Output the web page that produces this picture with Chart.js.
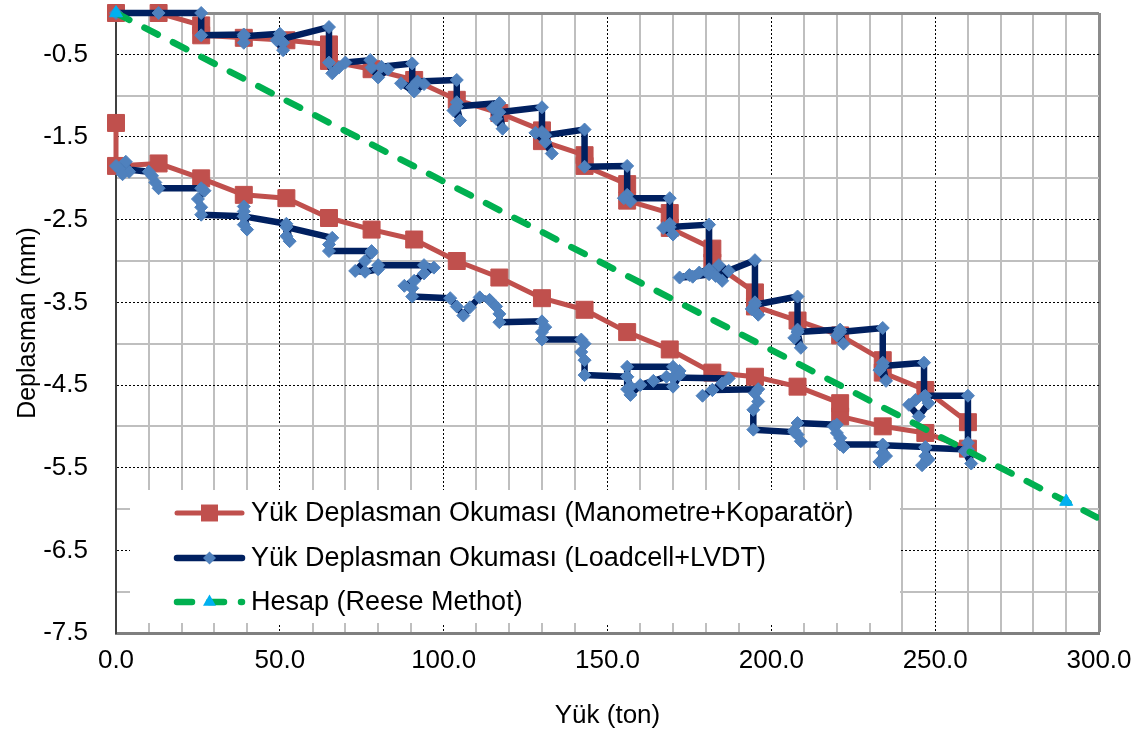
<!DOCTYPE html>
<html>
<head>
<meta charset="utf-8">
<script src="https://cdn.jsdelivr.net/npm/chart.js@4.4.0/dist/chart.umd.min.js"></script>
<style>
  html, body { margin: 0; padding: 0; background: #fff; }
  #wrap { width: 1147px; height: 733px; }
</style>
</head>
<body>
<div id="wrap"><canvas id="myChart"></canvas></div>
<script>
// Yük Deplasman Okuması (Manometre+Koparatör)
var manoLoad = [0, 13, 26, 26, 39, 52, 65, 65, 78, 91, 104, 117, 130, 130, 143, 143, 156, 156, 169, 169,
  182, 182, 195, 195, 208, 221, 234, 234, 247, 260, 260,
  247, 234, 221, 221, 208, 195, 182, 169, 156, 143, 130, 117, 104, 91, 78, 65, 52, 39, 26, 13, 0, 0];
var manoDisp = [0, 0, -0.15, -0.27, -0.30, -0.33, -0.38, -0.58, -0.68, -0.81, -1.05, -1.21, -1.42, -1.55, -1.72, -1.85, -2.07, -2.27, -2.42, -2.60,
  -2.85, -3.02, -3.38, -3.55, -3.72, -3.90, -4.20, -4.35, -4.56, -4.95, -5.27,
  -5.08, -5.00, -4.88, -4.72, -4.52, -4.40, -4.35, -4.07, -3.86, -3.59, -3.45, -3.20, -3.00, -2.74, -2.62, -2.48, -2.24, -2.20, -2.00, -1.82, -1.85, -1.33];

// Yük Deplasman Okuması (Loadcell+LVDT)
var cellLoad = [
  0, 13, 26, 26,
  39, 39, 39,
  50, 51, 51, 49,
  65, 65, 66, 68, 70,
  77.6, 78, 80, 83, 81,
  90.4, 90.4, 87, 91, 94, 92,
  104, 104, 103, 105, 104,
  117, 115, 116, 118, 117,
  130, 130, 128, 131, 133, 131,
  143, 143,
  156, 156, 157, 155,
  169, 169, 167, 170, 169,
  181, 181, 178, 175, 172, 176, 181, 184, 187, 185, 183,
  195, 195, 194, 196, 195,
  208, 208, 207, 209, 208,
  221, 220, 222, 221,
  234, 234, 233, 235, 234,
  246.6, 246.6, 244, 242, 245, 248, 247,
  260, 260, 259, 261, 260,
  // bosaltma
  247, 247, 246, 248, 247,
  234, 234, 233, 235, 234,
  221, 221, 222, 220, 219, 220,
  208, 207, 209, 208, 207,
  194.5, 194.5, 196, 195, 196,
  182, 179, 182, 185, 187,
  170, 172, 170, 156, 156, 156, 157, 160, 164, 168, 172, 170, 157, 156,
  143, 143, 142, 143, 142,
  130, 130, 131, 130,
  117, 117, 116, 114,
  111, 108, 106, 104, 102,
  90.4, 90.4, 88, 91, 94, 97, 94,
  80, 80, 76, 73, 76, 78, 78,
  65, 65, 66,
  52, 52, 53, 52,
  39, 39, 40, 39, 39, 39,
  26, 26, 25, 27, 26,
  13, 12, 11, 10,
  1, 3, 4, 2, 0
];
var cellDisp = [
  0, 0, 0, -0.27,
  -0.26, -0.36, -0.28,
  -0.25, -0.36, -0.45, -0.33,
  -0.17, -0.60, -0.73, -0.66, -0.60,
  -0.57, -0.66, -0.78, -0.68, -0.65,
  -0.61, -0.90, -0.85, -0.95, -0.86, -0.83,
  -0.81, -1.08, -1.18, -1.30, -1.13,
  -1.09, -1.15, -1.28, -1.40, -1.20,
  -1.14, -1.44, -1.45, -1.56, -1.70, -1.48,
  -1.41, -1.86,
  -1.85, -2.20, -2.28, -2.24,
  -2.24, -2.55, -2.60, -2.68, -2.59,
  -2.56, -3.10, -3.14, -3.17, -3.20, -3.19, -3.16, -3.05, -3.12, -3.24, -3.18,
  -2.99, -3.50, -3.58, -3.65, -3.53,
  -3.43, -3.83, -3.93, -4.05, -3.86,
  -3.83, -3.90, -4.00, -3.86,
  -3.81, -4.23, -4.32, -4.45, -4.27,
  -4.23, -4.64, -4.68, -4.74, -4.88, -4.72, -4.63,
  -4.63, -5.20, -5.30, -5.45, -5.28,
  // bosaltma
  -5.26, -5.36, -5.47, -5.40, -5.25,
  -5.23, -5.32, -5.43, -5.36, -5.22,
  -5.22, -5.14, -5.25, -5.08, -5.00, -4.98,
  -4.96, -5.05, -5.18, -5.10, -5.07,
  -5.04, -4.80, -4.70, -4.60, -4.55,
  -4.56, -4.63, -4.56, -4.48, -4.42,
  -4.41, -4.33, -4.28, -4.28, -4.40, -4.55, -4.62, -4.50, -4.45, -4.40, -4.38, -4.52, -4.52, -4.40,
  -4.38, -4.20, -4.10, -4.00, -3.95,
  -3.95, -3.86, -3.80, -3.73,
  -3.74, -3.64, -3.55, -3.47,
  -3.44, -3.56, -3.66, -3.55, -3.45,
  -3.43, -3.33, -3.30, -3.24, -3.15, -3.08, -3.05,
  -3.05, -3.10, -3.13, -3.12, -3.00, -2.90, -2.88,
  -2.88, -2.80, -2.72,
  -2.59, -2.70, -2.76, -2.55,
  -2.46, -2.56, -2.62, -2.40, -2.34, -2.46,
  -2.44, -2.35, -2.25, -2.15, -2.12,
  -2.12, -2.05, -1.97, -1.92,
  -1.88, -1.80, -1.92, -1.95, -1.85
];

// Hesap (Reese Methot)
var reeseLoad = [0, 290, 320];
var reeseDisp = [0, -5.91, -6.52];

var seriesNames = [
  "Yük Deplasman Okuması (Manometre+Koparatör)",
  "Yük Deplasman Okuması (Loadcell+LVDT)",
  "Hesap (Reese Methot)"
];
var xAchse_Name = "Yük (ton)";
var yAchse_Name = "Deplasman (mm)";

function pts(xs, ys) {
  return xs.map(function (v, i) { return { x: v, y: ys[i] }; });
}

var isMajorX = function (v) { return Math.abs(v % 50) < 1e-6; };
var isMajorY = function (v) { return Math.abs(Math.abs(v % 1) - 0.5) < 1e-6; };

Chart.defaults.font.family = "'Liberation Sans', Arial, sans-serif";
Chart.defaults.font.size = 26;
Chart.defaults.color = "#000";

// Legende im Diagramm (weisses Feld)
var legendBox = {
  id: "legendBox",
  afterDatasetsDraw: function (chart) {
    var ctx = chart.ctx;
    var a = chart.chartArea;
    var bx = a.left + 14, by = 490, bw = 770, bh = 133;
    ctx.save();
    ctx.fillStyle = "#fff";
    ctx.fillRect(bx, by, bw, bh);
    var rows = [513, 558, 602];
    chart.data.datasets.forEach(function (ds, i) {
      var y = rows[i];
      ctx.save();
      ctx.strokeStyle = ds.borderColor;
      ctx.lineWidth = ds.borderWidth;
      ctx.lineCap = "round";
      ctx.setLineDash(ds.borderDash || []);
      ctx.beginPath();
      ctx.moveTo(177, y);
      ctx.lineTo(242, y);
      ctx.stroke();
      ctx.restore();
      var mx = 209.5, r = ds.pointRadius;
      ctx.fillStyle = ds.pointBackgroundColor;
      ctx.beginPath();
      if (ds.pointStyle === "rect") {
        var s = r * Math.SQRT1_2;
        ctx.rect(mx - s, y - s, 2 * s, 2 * s);
      } else if (ds.pointStyle === "rectRot") {
        ctx.moveTo(mx, y - r); ctx.lineTo(mx + r, y); ctx.lineTo(mx, y + r); ctx.lineTo(mx - r, y);
      } else {
        ctx.moveTo(mx, y - r);
        ctx.lineTo(mx + r * Math.sin(2 * Math.PI / 3), y - r * Math.cos(2 * Math.PI / 3));
        ctx.lineTo(mx + r * Math.sin(4 * Math.PI / 3), y - r * Math.cos(4 * Math.PI / 3));
      }
      ctx.closePath();
      ctx.fill();
      ctx.fillStyle = "#000";
      ctx.font = "27px 'Liberation Sans', Arial, sans-serif";
      ctx.textBaseline = "middle";
      ctx.textAlign = "left";
      ctx.fillText(ds.label, 251, y + 1);
    });
    ctx.restore();
  }
};

new Chart("myChart", {
  type: "scatter",
  data: {
    datasets: [
      {
        label: seriesNames[0],
        data: pts(manoLoad, manoDisp),
        showLine: true,
        borderColor: "#C0504D",
        borderWidth: 5,
        borderJoinStyle: "round",
        pointStyle: "rect",
        pointRadius: 12,
        pointBackgroundColor: "#C0504D",
        pointBorderColor: "#C0504D",
        pointBorderWidth: 1,
        clip: false,
        order: 3
      },
      {
        label: seriesNames[1],
        data: pts(cellLoad, cellDisp),
        showLine: true,
        borderColor: "#002060",
        borderWidth: 6.5,
        borderJoinStyle: "round",
        borderCapStyle: "round",
        pointStyle: "rectRot",
        pointRadius: 6.5,
        pointBackgroundColor: "#4F81BD",
        pointBorderColor: "#4F81BD",
        pointBorderWidth: 1,
        clip: false,
        order: 2
      },
      {
        label: seriesNames[2],
        data: pts(reeseLoad, reeseDisp),
        showLine: true,
        borderColor: "#00B050",
        borderWidth: 6.5,
        borderDash: [15, 17],
        borderCapStyle: "round",
        pointStyle: "triangle",
        pointRadius: 7.5,
        pointBackgroundColor: "#00B0F0",
        pointBorderColor: "#00B0F0",
        pointBorderWidth: 1,
        clip: { left: false, top: false, right: 0, bottom: false },
        order: 1
      }
    ]
  },
  options: {
    responsive: true,
    maintainAspectRatio: false,
    animation: false,
    layout: { padding: { left: 0, top: 13, right: 48, bottom: 0 } },
    plugins: {
      legend: { display: false },
      tooltip: { enabled: false }
    },
    scales: {
      x: {
        type: "linear",
        position: "bottom",
        min: 0,
        max: 300,
        afterFit: function (s) { s.height = 100; },
        ticks: {
          stepSize: 10,
          autoSkip: false,
          maxRotation: 0,
          padding: 12,
          callback: function (v) { return isMajorX(v) ? v.toFixed(1) : ""; }
        },
        grid: {
          drawTicks: false,
          color: function (c) {
            var v = c.tick.value;
            if (v === 0) return "rgba(0,0,0,0)";
            if (v === 300) return "#8c8c8c";
            return isMajorX(v) ? "#000" : "#BFBFBF";
          },
          lineWidth: function (c) {
            var v = c.tick.value;
            if (v === 300) return 3;
            return isMajorX(v) ? 1 : 2;
          }
        },
        border: {
          color: "#7f7f7f",
          width: 3,
          dash: function (c) {
            return c.tick && isMajorX(c.tick.value) && c.tick.value !== 300 ? [2, 2] : [];
          }
        },
        title: {
          display: true,
          text: xAchse_Name,
          font: { size: 26 },
          padding: { top: 0, bottom: 2 }
        }
      },
      y: {
        type: "linear",
        position: "left",
        min: -7.5,
        max: 0,
        afterFit: function (s) { s.width = 116; s.paddingTop = 0; },
        ticks: {
          stepSize: 0.5,
          autoSkip: false,
          padding: 28,
          callback: function (v) { return isMajorY(v) ? v.toFixed(1) : ""; }
        },
        grid: {
          drawTicks: false,
          color: function (c) {
            var v = c.tick.value;
            if (v === -7.5) return "rgba(0,0,0,0)";
            if (v === 0) return "#8c8c8c";
            return isMajorY(v) ? "#000" : "#BFBFBF";
          },
          lineWidth: function (c) {
            var v = c.tick.value;
            if (v === 0) return 3;
            return isMajorY(v) ? 1 : 2;
          }
        },
        border: {
          color: "#404040",
          width: 2,
          dash: function (c) {
            return c.tick && isMajorY(c.tick.value) ? [2, 2] : [];
          }
        },
        title: {
          display: true,
          text: yAchse_Name,
          font: { size: 25 },
          padding: { top: 13, bottom: 0 }
        }
      }
    }
  },
  plugins: [legendBox]
});
</script>
</body>
</html>
